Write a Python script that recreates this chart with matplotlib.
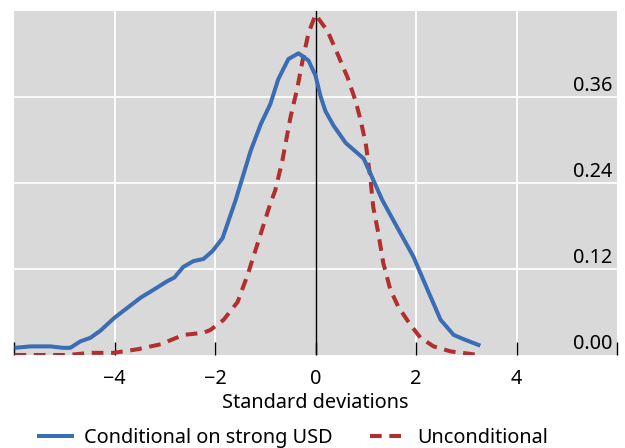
import matplotlib
matplotlib.use("Agg")
import matplotlib.pyplot as plt
import matplotlib.transforms as mtransforms

plt.rcParams['font.family'] = ['Noto Sans', 'DejaVu Sans']

# Conditional on strong USD (blue)
cond_x = [-5.99, -5.67, -5.27, -5.03, -4.88, -4.68, -4.48, -4.28, -4.00, -3.74,
          -3.48, -3.20, -2.95, -2.81, -2.63, -2.43, -2.23, -2.05, -1.85, -1.59,
          -1.49, -1.29, -1.09, -0.90, -0.74, -0.54, -0.34, -0.14, 0.00, 0.10,
          0.20, 0.36, 0.60, 0.96, 1.33, 1.69, 1.95, 2.23, 2.49, 2.75, 2.95, 3.28]
cond_y = [0.010, 0.012, 0.012, 0.010, 0.010, 0.019, 0.024, 0.034, 0.052, 0.066,
          0.080, 0.092, 0.103, 0.108, 0.123, 0.131, 0.134, 0.145, 0.163, 0.216,
          0.239, 0.285, 0.322, 0.350, 0.385, 0.413, 0.421, 0.411, 0.390, 0.361,
          0.340, 0.320, 0.296, 0.274, 0.216, 0.170, 0.137, 0.091, 0.049, 0.028, 0.022, 0.013]

# Unconditional (red dashed)
unc_x = [-5.99, -4.94, -4.48, -4.02, -3.54, -3.08, -2.63, -2.23, -2.09, -1.83,
         -1.55, -1.35, -1.15, -0.90, -0.80, -0.66, -0.50, -0.36, -0.26, -0.14,
         0.00, 0.24, 0.44, 0.64, 0.80, 0.90, 1.00, 1.09, 1.15, 1.25,
         1.35, 1.49, 1.65, 1.89, 2.09, 2.35, 2.69, 3.14, 3.28]
unc_y = [0.000, 0.000, 0.003, 0.003, 0.008, 0.015, 0.028, 0.031, 0.035, 0.049,
         0.074, 0.112, 0.156, 0.211, 0.230, 0.271, 0.331, 0.373, 0.410, 0.449,
         0.475, 0.452, 0.420, 0.387, 0.354, 0.327, 0.295, 0.248, 0.206, 0.170,
         0.128, 0.091, 0.067, 0.042, 0.024, 0.012, 0.005, 0.001, 0.000]

x_ticks = [-6, -4, -2, 0, 2, 4, 6]
x_tick_labels = ['', '\u22124', '\u22122', '0', '2', '4', '']
y_ticks = [0.00, 0.12, 0.24, 0.36]
y_tick_labels = ['0.00', '0.12', '0.24', '0.36']

FS = 14.3

fig = plt.figure(figsize=(6.25, 4.48), dpi=100)
ax = fig.add_axes([0.0224, 0.2076, 0.9648, 0.7678])
ax.set_facecolor('#d9d9d9')
for s in ax.spines.values():
    s.set_visible(False)

ax.set_xlim(-6, 6)
ax.set_ylim(0, 0.48)

# grid
for v in [-4, -2, 2, 4]:
    ax.axvline(v, color='white', lw=1.3, zorder=1)
for v in [0.12, 0.24, 0.36]:
    ax.axhline(v, color='white', lw=1.3, zorder=1)
ax.axvline(0, color='black', lw=1.0, zorder=2)

ax.plot(cond_x, cond_y, color='#3b6db4', lw=2.9, zorder=4,
        label='Conditional on strong USD', solid_capstyle='butt')
ax.plot(unc_x, unc_y, color='#b22f2f', lw=2.9, zorder=3, dashes=(2.9, 1.9),
        label='Unconditional')

ax.set_xticks(x_ticks)
ax.set_xticklabels(x_tick_labels, fontsize=FS)
ax.tick_params(axis='x', direction='in', length=9.5, width=1, color='black', pad=10)
ax.set_yticks([])

trans = mtransforms.blended_transform_factory(ax.transAxes, ax.transData)
for v, lab in zip(y_ticks, y_tick_labels):
    ax.text(0.992, v + 0.002, lab, transform=trans, ha='right', va='bottom',
            fontsize=FS, color='black', zorder=5)

ax.set_xlabel('Standard deviations', fontsize=FS, labelpad=3)

leg = fig.legend(loc='lower center', bbox_to_anchor=(0.468, -0.04), ncol=2,
                 frameon=False, fontsize=FS, handlelength=1.9, columnspacing=1.85,
                 handletextpad=0.5)

fig.savefig('out.png', dpi=100)
